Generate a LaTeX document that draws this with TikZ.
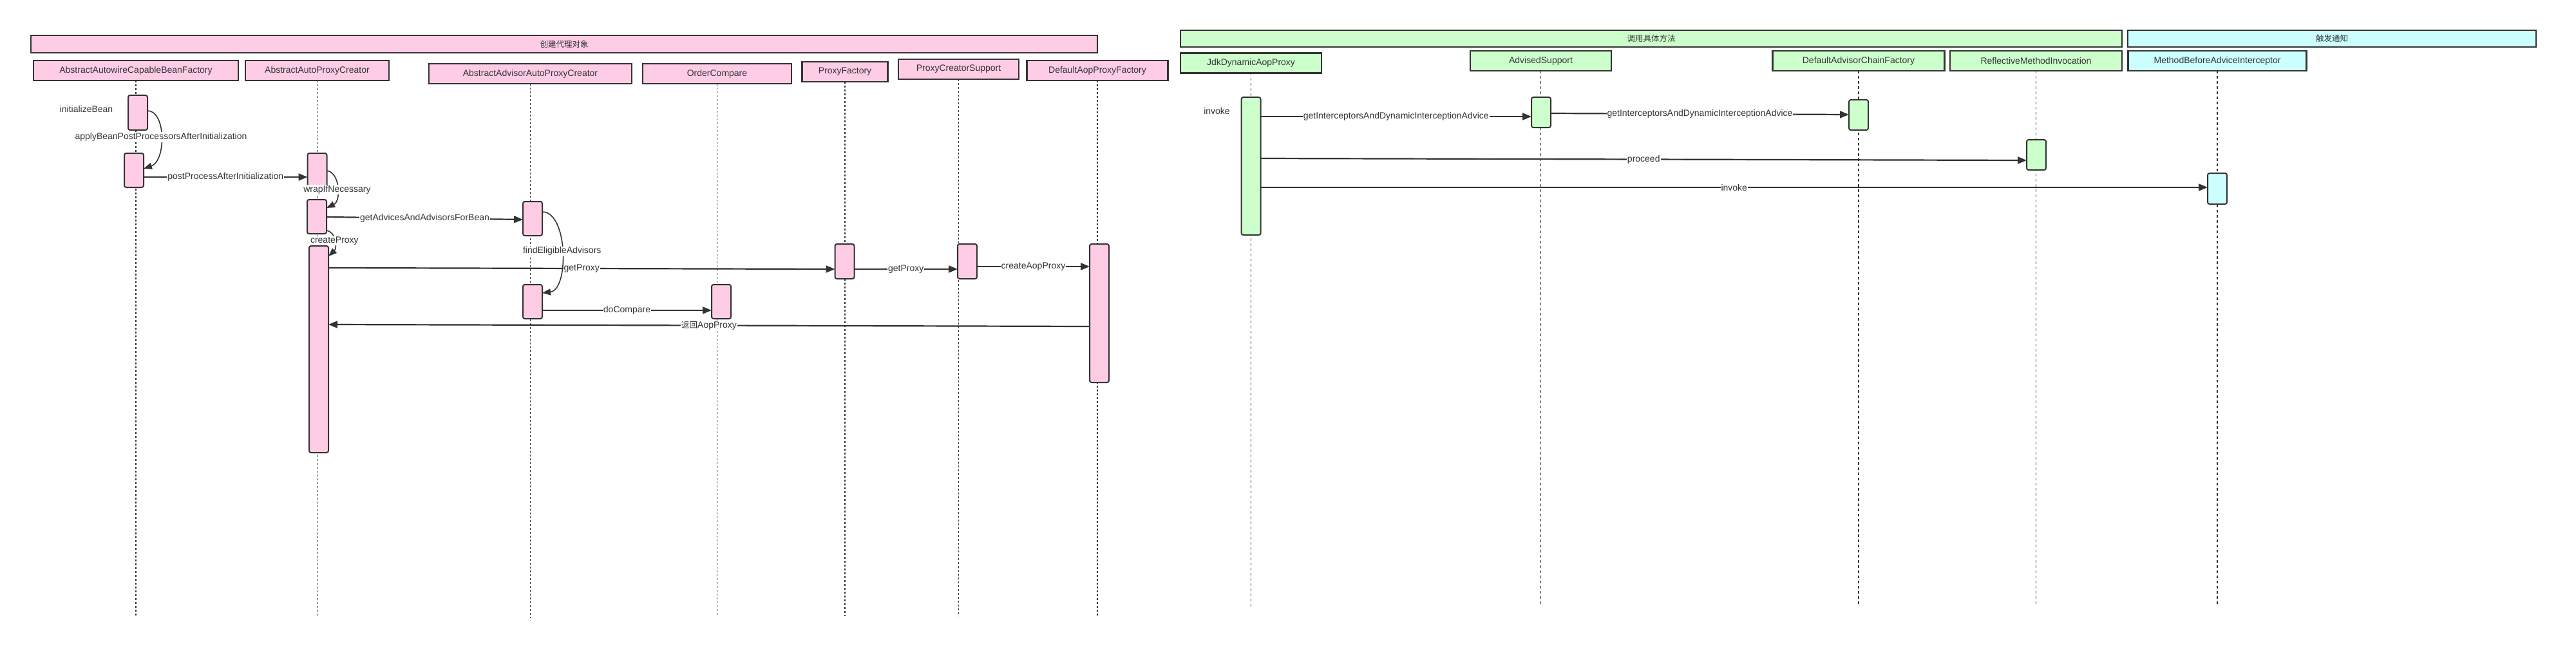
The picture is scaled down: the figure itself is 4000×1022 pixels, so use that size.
\documentclass[tikz,border=0pt]{standalone}
\usepackage{fontspec}
\setmainfont{Liberation Sans}
\newfontfamily\cjkfam{Noto Sans CJK SC}
\newcommand\cjkt{\fontsize{12.5}{14}\selectfont\cjkfam}
\usetikzlibrary{arrows.meta}
\definecolor{ink}{HTML}{333333}
\definecolor{pinkf}{HTML}{FFCCE6}
\definecolor{greenf}{HTML}{CCFFCC}
\definecolor{cyanf}{HTML}{CCFFFF}
\tikzset{
 lbl/.style={font=\fontsize{14}{16}\selectfont, text=ink},
 band/.style={draw=ink, line width=2.3pt, inner sep=0pt, outer sep=0pt, lbl},
 partbox/.style={draw=ink, line width=2.3pt, inner sep=0pt, outer sep=0pt, minimum height=31pt, lbl},
 actbox/.style={draw=ink, line width=2pt, rounded corners=3pt, inner sep=0pt, outer sep=0pt, minimum width=30pt},
 life/.style={draw=ink, line width=1.8pt, dash pattern=on 3pt off 3pt},
 lifer/.style={draw=ink, line width=1.3pt, dash pattern=on 4pt off 4pt},
 msg/.style={draw=ink, line width=2.2pt, -{Triangle[length=14pt,width=11pt]}},
 selfmsg/.style={draw=ink, line width=1.6pt, -{Triangle[length=13pt,width=10pt]}},
 mlabel/.style={lbl, fill=white, inner sep=1pt},
}
\begin{document}
\begin{tikzpicture}[x=1pt,y=-1pt]
\useasboundingbox[fill=white] (0,0) rectangle (4000,1022);

% header bands
\node[band, fill=pinkf, minimum width=1656pt, minimum height=27pt] (H1) at (876,68.5) {\cjkt 创建代理对象};
\node[band, fill=greenf, minimum width=1462pt, minimum height=25.5pt] (H2) at (2564,60) {\cjkt 调用具体方法};
\node[band, fill=cyanf, minimum width=634pt, minimum height=25.5pt] (H3) at (3621,60) {\cjkt 触发通知};

% participants
\node[partbox, fill=pinkf, minimum width=318pt] (P1) at (211,109.5) {AbstractAutowireCapableBeanFactory};
\node[partbox, fill=pinkf, minimum width=223pt] (P2) at (492.5,109.5) {AbstractAutoProxyCreator};
\node[partbox, fill=pinkf, minimum width=315pt] (P3) at (823.5,114.5) {AbstractAdvisorAutoProxyCreator};
\node[partbox, fill=pinkf, minimum width=231pt] (P4) at (1113.5,114.5) {OrderCompare};
\node[partbox, fill=pinkf, minimum width=133pt] (P5) at (1312,111.5) {ProxyFactory};
\node[partbox, fill=pinkf, minimum width=187pt] (P6) at (1488.5,107.5) {ProxyCreatorSupport};
\node[partbox, fill=pinkf, minimum width=219pt] (P7) at (1704,109.5) {DefaultAopProxyFactory};
\node[partbox, fill=greenf, minimum width=219pt] (Q1) at (1942.5,98) {JdkDynamicAopProxy};
\node[partbox, fill=greenf, minimum width=219pt] (Q2) at (2392.5,94.5) {AdvisedSupport};
\node[partbox, fill=greenf, minimum width=267pt] (Q3) at (2886,94.5) {DefaultAdvisorChainFactory};
\node[partbox, fill=greenf, minimum width=267pt] (Q4) at (3161.5,94.5) {ReflectiveMethodInvocation};
\node[partbox, fill=cyanf, minimum width=277pt] (Q5) at (3443,94.5) {MethodBeforeAdviceInterceptor};

% lifelines
\foreach \p/\e in {P1/957,P2/957,P3/960,P4/957,P5/957,P6/957,P7/957}{
  \draw[life] (\p.south) -- (\p.south |- 0,\e);
}
\foreach \p/\e in {Q1/943,Q2/941,Q3/941,Q4/941,Q5/941}{
  \draw[lifer] (\p.south) -- (\p.south |- 0,\e);
}

% activations
\node[actbox, fill=pinkf, minimum height=54pt] (A1) at (214,175) {};
\node[actbox, fill=pinkf, minimum height=53pt] (A2) at (208,264.5) {};
\node[actbox, fill=pinkf, minimum height=53pt] (B1) at (492.5,264.5) {};
\node[actbox, fill=pinkf, minimum height=53pt] (B2) at (492,336.5) {};
\node[actbox, fill=pinkf, minimum height=321pt] (B3) at (495,542.5) {};
\node[actbox, fill=pinkf, minimum height=53pt] (C1) at (827,339.5) {};
\node[actbox, fill=pinkf, minimum height=53pt] (C2) at (827,468.5) {};
\node[actbox, fill=pinkf, minimum height=53pt] (D1) at (1120,468.5) {};
\node[actbox, fill=pinkf, minimum height=54pt] (E1) at (1311.5,406) {};
\node[actbox, fill=pinkf, minimum height=54pt] (F1) at (1502,406) {};
\node[actbox, fill=pinkf, minimum height=215pt] (G1) at (1707,486.5) {};
\node[actbox, fill=greenf, minimum height=214pt] (J1) at (1942.5,258) {};
\node[actbox, fill=greenf, minimum height=47pt] (K1) at (2393,174.5) {};
\node[actbox, fill=greenf, minimum height=47pt] (L1) at (2886,178.5) {};
\node[actbox, fill=greenf, minimum height=47pt] (M1) at (3162,240.5) {};
\node[actbox, fill=cyanf, minimum height=48pt] (N1) at (3443,293) {};

% free labels
\node[lbl] (t1) at (134,169) {initializeBean};
\node[lbl] (t2) at (1889.5,172) {invoke};

% messages: creation section
\draw[selfmsg] (A1.east |- 0,172) .. controls (258,172) and (258,250) .. node[mlabel, pos=0.5] {applyBeanPostProcessorsAfterInitialization} (A2.east |- 0,262);
\draw[msg] (A2.east |- 0,275) -- node[mlabel] {postProcessAfterInitialization} (B1.west |- 0,275);
\draw[selfmsg] (B1.east |- 0,265) .. controls (528,268) and (530,312) .. node[mlabel, pos=0.55] {wrapIfNecessary} (B2.east |- 0,323);
\draw[msg] (B2.east |- 0,337) -- node[mlabel] {getAdvicesAndAdvisorsForBean} (C1.west |- 0,341);
\draw[selfmsg] (B2.east |- 0,358) .. controls (522,360) and (524,385) .. node[mlabel, pos=0.5] {createProxy} (B3.east |- 0,398);
\draw[selfmsg] (C1.east |- 0,329) .. controls (882,329) and (884,450) .. node[mlabel, pos=0.5] {findEligibleAdvisors} (C2.east |- 0,455);
\draw[msg] (B3.east |- 0,416) -- node[mlabel] {getProxy} (E1.west |- 0,418);
\draw[msg] (C2.east |- 0,482) -- node[mlabel] {doCompare} (D1.west |- 0,482);
\draw[msg] (E1.east |- 0,418) -- node[mlabel] {getProxy} (F1.west |- 0,418);
\draw[msg] (F1.east |- 0,414) -- node[mlabel] {createAopProxy} (G1.west |- 0,414);
\draw[msg] (G1.west |- 0,507) -- node[mlabel] {{\cjkt 返回}AopProxy} (B3.east |- 0,504);

% messages: invocation section
\draw[msg] (J1.east |- 0,181) -- node[mlabel] {getInterceptorsAndDynamicInterceptionAdvice} (K1.west |- 0,181);
\draw[msg] (K1.east |- 0,176) -- node[mlabel] {getInterceptorsAndDynamicInterceptionAdvice} (L1.west |- 0,178);
\draw[msg] (J1.east |- 0,246) -- node[mlabel] {proceed} (M1.west |- 0,249);
\draw[msg] (J1.east |- 0,291) -- node[mlabel] {invoke} (N1.west |- 0,291);
\end{tikzpicture}
\end{document}
